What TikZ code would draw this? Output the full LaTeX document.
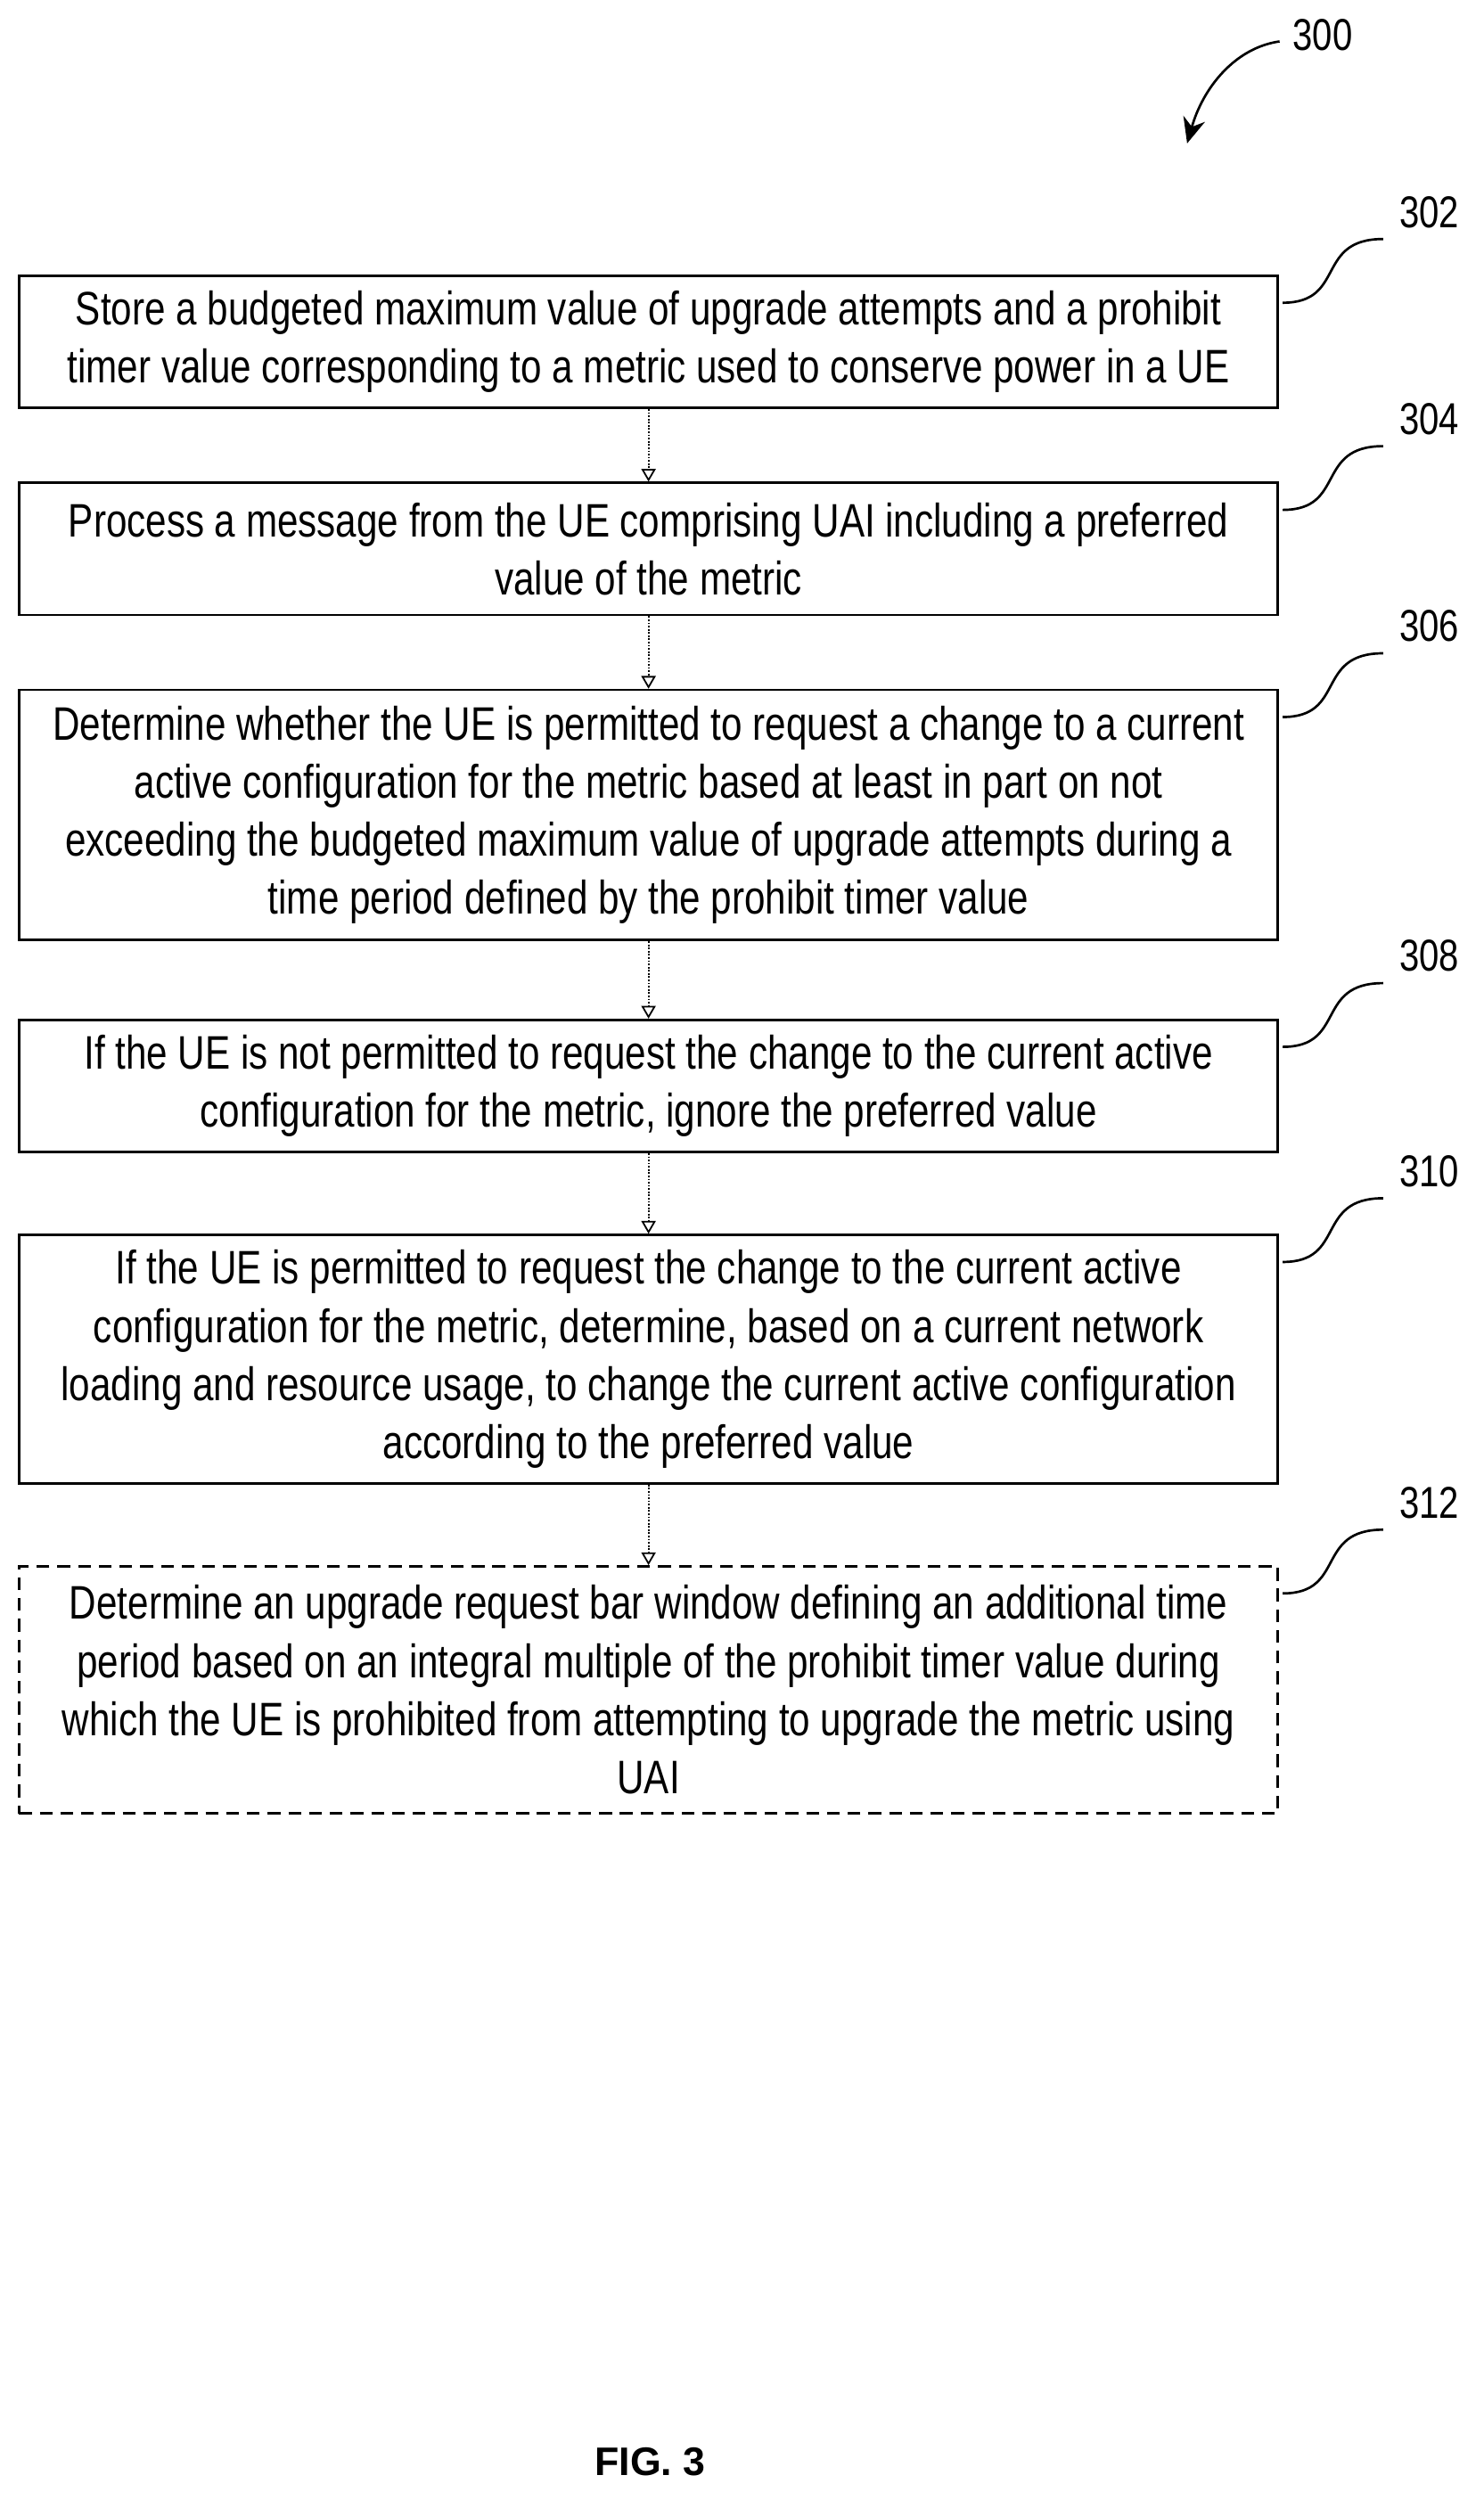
\documentclass[tikz,border=0pt]{standalone}
\usepackage{fontspec}
\setmainfont{Liberation Sans}[FakeStretch=0.8]
\newfontfamily\figfont{Liberation Sans}
\usetikzlibrary{arrows.meta}
\begin{document}
\begin{tikzpicture}[x=1pt,y=-1pt,
  box/.style={draw,line width=1.5pt,minimum width=790pt,align=center,inner sep=0pt,font=\fontsize{29.5}{36.5}\selectfont},
  lbl/.style={font=\fontsize{28}{30}\selectfont},
  conn/.style={line width=1pt,densely dotted,-{Triangle[width=9pt,length=8pt,open]}},
  sq/.style={line width=1.5pt}]
\useasboundingbox (0,0) rectangle (931,1574);
\node[box,minimum height=83pt] (b1) at (407,214.5) {Store a budgeted maximum value of upgrade attempts and a prohibit\\timer value corresponding to a metric used to conserve power in a UE};
\node[box,minimum height=83pt] (b2) at (407,344.5) {Process a message from the UE comprising UAI including a preferred\\value of the metric};
\node[box,minimum height=157pt] (b3) at (407,511.5) {Determine whether the UE is permitted to request a change to a current\\active configuration for the metric based at least in part on not\\exceeding the budgeted maximum value of upgrade attempts during a\\time period defined by the prohibit timer value};
\node[box,minimum height=83pt] (b4) at (407,681.5) {If the UE is not permitted to request the change to the current active\\configuration for the metric, ignore the preferred value};
\node[box,minimum height=156pt] (b5) at (407,853) {If the UE is permitted to request the change to the current active\\configuration for the metric, determine, based on a current network\\loading and resource usage, to change the current active configuration\\according to the preferred value};
\node[box,dashed,dash pattern=on 8pt off 5pt,minimum height=155pt] (b6) at (407,1060.5) {Determine an upgrade request bar window defining an additional time\\period based on an integral multiple of the prohibit timer value during\\which the UE is prohibited from attempting to upgrade the metric using\\UAI};
\foreach \a/\b in {b1/b2,b2/b3,b3/b4,b4/b5,b5/b6} \draw[conn] (\a.south) -- (\b.north);
\foreach \n/\t/\y in {b1/302/173,b2/304/303,b3/306/433,b4/308/640,b5/310/775,b6/312/983}{
  \coordinate (s\n) at (805,\y+17);
  \node[lbl] (l\n) at (897,\y-40) {\t};
  \draw[sq] (s\n) .. controls (845,\y+17) and (825,\y-23) .. (868,\y-23);
}
\node[lbl] (l300) at (830,22) {300};
\coordinate (a300) at (745,90);
\draw[sq,-{Stealth[length=16pt,width=14pt]}] (803,26) .. controls (775,30) and (755,55) .. (a300);
\node[font=\figfont\bfseries\fontsize{25}{30}\selectfont] (fig) at (408,1545) {FIG. 3};
\end{tikzpicture}
\end{document}
